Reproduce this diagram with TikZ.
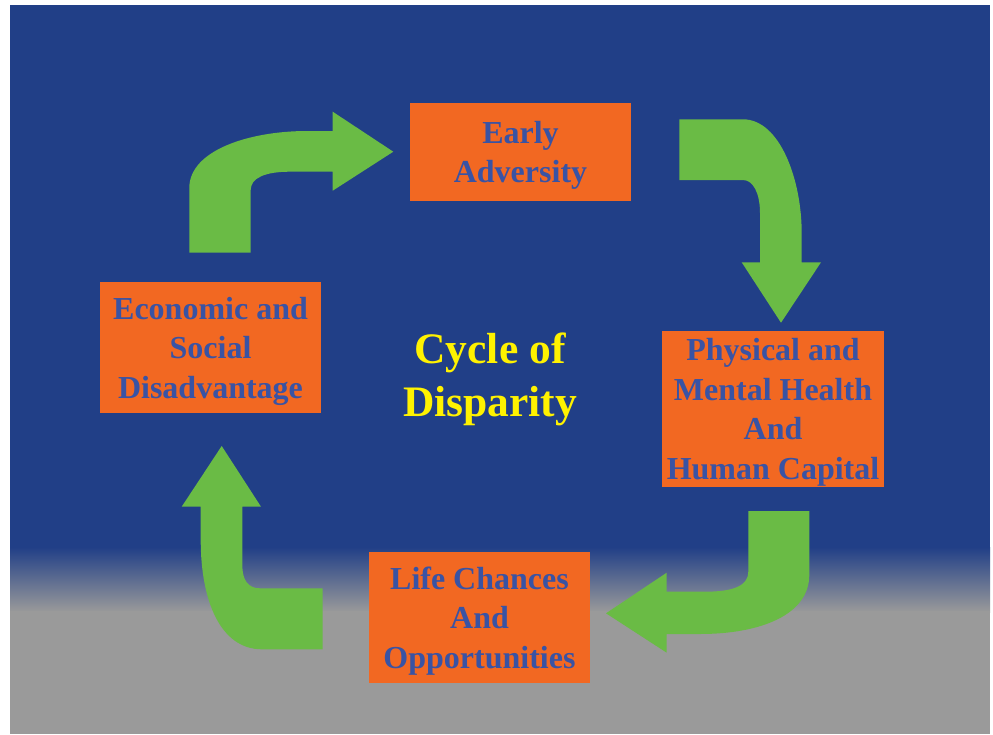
\documentclass[tikz,border=0pt]{standalone}
\usepackage{fontspec}
\setmainfont{Liberation Serif}
\usepackage{tikz}
\usetikzlibrary{positioning}

\definecolor{bgblue}{HTML}{213F87}
\definecolor{bggray}{HTML}{9A9A9A}
\definecolor{boxorange}{HTML}{F26822}
\definecolor{textblue}{HTML}{3953A4}
\definecolor{arrowgreen}{HTML}{6ABB45}
\definecolor{titleyellow}{HTML}{FFF200}

\begin{document}
\begin{tikzpicture}[x=1pt,y=-1pt]
        \tikzstyle{stage}=[rectangle,fill=boxorange,inner sep=0pt,minimum width=221pt,text depth=-2pt,
            align=center,text=textblue,font=\fontsize{32}{39.5}\selectfont\bfseries]
        \tikzstyle{blockarrow}=[fill=arrowgreen]
        \useasboundingbox (0,0) rectangle (993,734);
        % background
        \fill[bgblue] (10,5) rectangle (990,548);
        \shade[top color=bgblue,bottom color=bggray] (10,547) rectangle (990,612);
        \fill[bggray] (10,611) rectangle (990,734);
        % stages
        \node[stage,minimum height=98pt] (early) at (520.5,152) {Early\\Adversity};
        \node[stage,minimum width=222pt,minimum height=156pt] (health) at (773,409) {Physical and\\Mental Health\\And\\Human Capital};
        \node[stage,minimum height=131pt] (chances) at (479.5,617.5) {Life Chances\\And\\Opportunities};
        \node[stage,minimum height=131pt] (econ) at (210.5,347.5) {Economic and\\Social\\Disadvantage};
        \node[text=titleyellow,align=center,font=\fontsize{43.5}{53}\selectfont\bfseries] (title) at (490,379) {Cycle of\\Disparity};
        % arrows
        \fill[blockarrow] (189.3,252.7) -- (189.3,188) .. controls (189.3,150) and (250,131) .. (307,131)
            -- (332.7,131) -- (332.7,111.7) -- (393.3,151.7) -- (332.7,190.7) -- (332.7,171.7)
            -- (290,171.7) .. controls (265,171.7) and (250.7,178) .. (250.7,190) -- (250.7,252.7) -- cycle;
        \fill[blockarrow] (679.3,119.3) -- (743,119.3) .. controls (780,119.3) and (801.7,180) .. (801.7,233)
            -- (801.7,262.3) -- (821,262.3) -- (781,322.7) -- (741.7,262.3) -- (760,262.3)
            -- (760,213) .. controls (760,193) and (753,180) .. (743,180) -- (679.3,180) -- cycle;
        \fill[blockarrow] (748.3,511) -- (809.3,511) -- (809.3,575) .. controls (809.3,615) and (760,634) .. (700,634)
            -- (666.7,634) -- (666.7,652.7) -- (606,613.3) -- (666.7,572.7) -- (666.7,591.7)
            -- (705,591.7) .. controls (735,591.7) and (748.3,585) .. (748.3,571.7) -- cycle;
        \fill[blockarrow] (221.7,446) -- (261,506.7) -- (242.3,506.7) -- (242.3,565)
            .. controls (242.3,580) and (248,588.3) .. (260,588.3) -- (322.7,588.3) -- (322.7,649.3)
            -- (262,649.3) .. controls (220,649.3) and (200.7,600) .. (200.7,540)
            -- (200.7,506.7) -- (181.7,506.7) -- cycle;
    \end{tikzpicture}
\end{document}
